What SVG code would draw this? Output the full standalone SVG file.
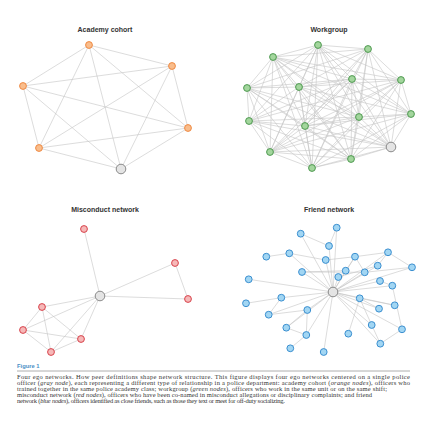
<svg xmlns="http://www.w3.org/2000/svg" width="427" height="421" viewBox="0 0 427 421">
<style>
.t{font-family:"Liberation Sans",Arial,sans-serif;font-weight:bold;font-size:7px;fill:#333;text-anchor:middle}
.e line{stroke:#c4c4c4;stroke-width:0.6}
.o{fill:#f9bd8c;stroke:#ef8a43;stroke-width:1}
.g{fill:#a3d69d;stroke:#4f9a51;stroke-width:1}
.r{fill:#f6b8b8;stroke:#d8434c;stroke-width:1}
.b{fill:#a2d6f3;stroke:#3b8fd0;stroke-width:1}
.ego{fill:#e4e4e4;stroke:#8a8a8a;stroke-width:1}
.cap{font-family:"Liberation Serif","Times New Roman",serif;font-size:6.5px;fill:#333}
</style>
<rect width="427" height="421" fill="#fff"/>
<text class="t" x="105" y="31.5">Academy cohort</text>
<text class="t" x="329" y="31.5">Workgroup</text>
<text class="t" x="105" y="211.5">Misconduct network</text>
<text class="t" x="329" y="211.5">Friend network</text>
<g id="connectors" class="e">
<line x1="89" y1="45" x2="172" y2="66"/><line x1="89" y1="45" x2="23" y2="86"/><line x1="89" y1="45" x2="188" y2="128"/><line x1="89" y1="45" x2="39" y2="148"/><line x1="89" y1="45" x2="121" y2="169"/>
<line x1="172" y1="66" x2="23" y2="86"/><line x1="172" y1="66" x2="188" y2="128"/><line x1="172" y1="66" x2="39" y2="148"/><line x1="172" y1="66" x2="121" y2="169"/>
<line x1="23" y1="86" x2="188" y2="128"/><line x1="23" y1="86" x2="39" y2="148"/><line x1="23" y1="86" x2="121" y2="169"/>
<line x1="188" y1="128" x2="39" y2="148"/><line x1="188" y1="128" x2="121" y2="169"/><line x1="39" y1="148" x2="121" y2="169"/>
<line x1="318" y1="45" x2="368" y2="49"/><line x1="318" y1="45" x2="273" y2="57"/><line x1="318" y1="45" x2="352" y2="79"/><line x1="318" y1="45" x2="401" y2="80"/><line x1="318" y1="45" x2="247" y2="88"/><line x1="318" y1="45" x2="299" y2="87"/><line x1="318" y1="45" x2="411" y2="114"/><line x1="318" y1="45" x2="359" y2="117"/><line x1="318" y1="45" x2="249" y2="121"/><line x1="318" y1="45" x2="305" y2="126"/><line x1="318" y1="45" x2="351" y2="159"/><line x1="318" y1="45" x2="312" y2="168"/><line x1="318" y1="45" x2="391" y2="147"/><line x1="318" y1="45" x2="270" y2="152"/>
<line x1="368" y1="49" x2="273" y2="57"/><line x1="368" y1="49" x2="352" y2="79"/><line x1="368" y1="49" x2="401" y2="80"/><line x1="368" y1="49" x2="247" y2="88"/><line x1="368" y1="49" x2="299" y2="87"/><line x1="368" y1="49" x2="411" y2="114"/><line x1="368" y1="49" x2="359" y2="117"/><line x1="368" y1="49" x2="305" y2="126"/><line x1="368" y1="49" x2="351" y2="159"/><line x1="368" y1="49" x2="391" y2="147"/><line x1="368" y1="49" x2="312" y2="168"/><line x1="368" y1="49" x2="270" y2="152"/>
<line x1="273" y1="57" x2="352" y2="79"/><line x1="273" y1="57" x2="247" y2="88"/><line x1="273" y1="57" x2="299" y2="87"/><line x1="273" y1="57" x2="411" y2="114"/><line x1="273" y1="57" x2="359" y2="117"/><line x1="273" y1="57" x2="249" y2="121"/><line x1="273" y1="57" x2="305" y2="126"/><line x1="273" y1="57" x2="270" y2="152"/><line x1="273" y1="57" x2="312" y2="168"/><line x1="273" y1="57" x2="391" y2="147"/><line x1="273" y1="57" x2="401" y2="80"/><line x1="273" y1="57" x2="351" y2="159"/>
<line x1="352" y1="79" x2="401" y2="80"/><line x1="352" y1="79" x2="247" y2="88"/><line x1="352" y1="79" x2="299" y2="87"/><line x1="352" y1="79" x2="411" y2="114"/><line x1="352" y1="79" x2="359" y2="117"/><line x1="352" y1="79" x2="305" y2="126"/><line x1="352" y1="79" x2="270" y2="152"/><line x1="352" y1="79" x2="351" y2="159"/><line x1="352" y1="79" x2="312" y2="168"/><line x1="352" y1="79" x2="391" y2="147"/><line x1="352" y1="79" x2="249" y2="121"/>
<line x1="401" y1="80" x2="299" y2="87"/><line x1="401" y1="80" x2="411" y2="114"/><line x1="401" y1="80" x2="359" y2="117"/><line x1="401" y1="80" x2="270" y2="152"/><line x1="401" y1="80" x2="351" y2="159"/><line x1="401" y1="80" x2="312" y2="168"/><line x1="401" y1="80" x2="391" y2="147"/><line x1="401" y1="80" x2="249" y2="121"/><line x1="401" y1="80" x2="305" y2="126"/>
<line x1="247" y1="88" x2="299" y2="87"/><line x1="247" y1="88" x2="249" y2="121"/><line x1="247" y1="88" x2="305" y2="126"/><line x1="247" y1="88" x2="270" y2="152"/><line x1="247" y1="88" x2="312" y2="168"/><line x1="247" y1="88" x2="391" y2="147"/><line x1="247" y1="88" x2="359" y2="117"/><line x1="247" y1="88" x2="351" y2="159"/>
<line x1="299" y1="87" x2="411" y2="114"/><line x1="299" y1="87" x2="359" y2="117"/><line x1="299" y1="87" x2="249" y2="121"/><line x1="299" y1="87" x2="305" y2="126"/><line x1="299" y1="87" x2="270" y2="152"/><line x1="299" y1="87" x2="351" y2="159"/><line x1="299" y1="87" x2="312" y2="168"/><line x1="299" y1="87" x2="391" y2="147"/>
<line x1="411" y1="114" x2="359" y2="117"/><line x1="411" y1="114" x2="305" y2="126"/><line x1="411" y1="114" x2="351" y2="159"/><line x1="411" y1="114" x2="312" y2="168"/><line x1="411" y1="114" x2="391" y2="147"/><line x1="411" y1="114" x2="270" y2="152"/>
<line x1="359" y1="117" x2="249" y2="121"/><line x1="359" y1="117" x2="305" y2="126"/><line x1="359" y1="117" x2="270" y2="152"/><line x1="359" y1="117" x2="351" y2="159"/><line x1="359" y1="117" x2="312" y2="168"/><line x1="359" y1="117" x2="391" y2="147"/>
<line x1="249" y1="121" x2="305" y2="126"/><line x1="249" y1="121" x2="270" y2="152"/><line x1="249" y1="121" x2="351" y2="159"/><line x1="249" y1="121" x2="312" y2="168"/><line x1="249" y1="121" x2="391" y2="147"/>
<line x1="305" y1="126" x2="270" y2="152"/><line x1="305" y1="126" x2="351" y2="159"/><line x1="305" y1="126" x2="312" y2="168"/><line x1="305" y1="126" x2="391" y2="147"/>
<line x1="270" y1="152" x2="351" y2="159"/><line x1="270" y1="152" x2="312" y2="168"/><line x1="270" y1="152" x2="391" y2="147"/>
<line x1="351" y1="159" x2="312" y2="168"/><line x1="351" y1="159" x2="391" y2="147"/><line x1="312" y1="168" x2="391" y2="147"/>
<line x1="84" y1="229" x2="100" y2="296"/><line x1="175" y1="263" x2="100" y2="296"/><line x1="175" y1="263" x2="188" y2="299"/><line x1="100" y1="296" x2="188" y2="299"/>
<line x1="100" y1="296" x2="42" y2="307"/><line x1="100" y1="296" x2="23" y2="330"/><line x1="100" y1="296" x2="81" y2="339"/><line x1="100" y1="296" x2="51" y2="352"/>
<line x1="42" y1="307" x2="23" y2="330"/><line x1="42" y1="307" x2="81" y2="339"/><line x1="42" y1="307" x2="51" y2="352"/><line x1="23" y1="330" x2="81" y2="339"/><line x1="23" y1="330" x2="51" y2="352"/><line x1="51" y1="352" x2="81" y2="339"/>
<line x1="333" y1="292" x2="336.7" y2="227.7"/><line x1="333" y1="292" x2="300.7" y2="233.7"/><line x1="333" y1="292" x2="329" y2="246"/><line x1="333" y1="292" x2="289.3" y2="253.3"/><line x1="333" y1="292" x2="325.7" y2="260"/><line x1="333" y1="292" x2="355" y2="256.7"/><line x1="333" y1="292" x2="388" y2="252.3"/><line x1="333" y1="292" x2="412" y2="267.3"/><line x1="333" y1="292" x2="377.7" y2="265.7"/><line x1="333" y1="292" x2="345.7" y2="270.7"/><line x1="333" y1="292" x2="364.7" y2="272.3"/><line x1="333" y1="292" x2="302" y2="272"/><line x1="333" y1="292" x2="338.3" y2="277"/><line x1="333" y1="292" x2="248.7" y2="279.3"/><line x1="333" y1="292" x2="380" y2="281"/><line x1="333" y1="292" x2="392.3" y2="285.7"/><line x1="333" y1="292" x2="281.3" y2="297.7"/><line x1="333" y1="292" x2="359.7" y2="298.3"/><line x1="333" y1="292" x2="394.7" y2="305.3"/><line x1="333" y1="292" x2="307.3" y2="310"/><line x1="333" y1="292" x2="379" y2="308.7"/><line x1="333" y1="292" x2="268.7" y2="314.7"/><line x1="333" y1="292" x2="286.3" y2="327.7"/><line x1="333" y1="292" x2="371.7" y2="325"/><line x1="333" y1="292" x2="402" y2="329.3"/><line x1="333" y1="292" x2="306.3" y2="335"/><line x1="333" y1="292" x2="380.3" y2="343.7"/><line x1="333" y1="292" x2="323.7" y2="352"/>
<line x1="336.7" y1="227.7" x2="329" y2="246"/><line x1="300.7" y1="233.7" x2="329" y2="246"/><line x1="266.3" y1="256.7" x2="289.3" y2="253.3"/><line x1="289.3" y1="253.3" x2="325.7" y2="260"/><line x1="302" y1="272" x2="345.7" y2="270.7"/><line x1="302" y1="272" x2="364.7" y2="272.3"/><line x1="355" y1="256.7" x2="388" y2="252.3"/><line x1="388" y1="252.3" x2="412" y2="267.3"/><line x1="388" y1="252.3" x2="377.7" y2="265.7"/><line x1="355" y1="256.7" x2="345.7" y2="270.7"/><line x1="355" y1="256.7" x2="364.7" y2="272.3"/><line x1="345.7" y1="270.7" x2="338.3" y2="277"/><line x1="377.7" y1="265.7" x2="338.3" y2="277"/><line x1="364.7" y1="272.3" x2="412" y2="267.3"/><line x1="325.7" y1="260" x2="355" y2="256.7"/><line x1="380" y1="281" x2="392.3" y2="285.7"/>
<line x1="246" y1="303.3" x2="281.3" y2="297.7"/><line x1="281.3" y1="297.7" x2="268.7" y2="314.7"/><line x1="268.7" y1="314.7" x2="307.3" y2="310"/><line x1="307.3" y1="310" x2="306.3" y2="335"/><line x1="286.3" y1="327.7" x2="307.3" y2="310"/><line x1="286.3" y1="327.7" x2="306.3" y2="335"/><line x1="306.3" y1="335" x2="290.3" y2="348.3"/>
<line x1="359.7" y1="298.3" x2="379" y2="308.7"/><line x1="359.7" y1="298.3" x2="394.7" y2="305.3"/><line x1="359.7" y1="298.3" x2="348.3" y2="333.7"/><line x1="359.7" y1="298.3" x2="371.7" y2="325"/><line x1="380.3" y1="343.7" x2="402" y2="329.3"/><line x1="402" y1="329.3" x2="392.3" y2="285.7"/><line x1="371.7" y1="325" x2="380.3" y2="343.7"/>
</g>
<g id="academy-nodes">
<circle class="o" cx="89" cy="45" r="3.4"/><circle class="o" cx="172" cy="66" r="3.4"/><circle class="o" cx="23" cy="86" r="3.4"/><circle class="o" cx="188" cy="128" r="3.4"/><circle class="o" cx="39" cy="148" r="3.4"/>
<circle id="a-ego" class="ego" cx="121" cy="169" r="4.8"/>
</g>
<g id="workgroup-nodes">
<circle class="g" cx="318" cy="45" r="3.4"/><circle class="g" cx="368" cy="49" r="3.4"/><circle class="g" cx="273" cy="57" r="3.4"/><circle class="g" cx="352" cy="79" r="3.4"/><circle class="g" cx="401" cy="80" r="3.4"/><circle class="g" cx="247" cy="88" r="3.4"/><circle class="g" cx="299" cy="87" r="3.4"/><circle class="g" cx="411" cy="114" r="3.4"/><circle class="g" cx="359" cy="117" r="3.4"/><circle class="g" cx="249" cy="121" r="3.4"/><circle class="g" cx="305" cy="126" r="3.4"/><circle class="g" cx="270" cy="152" r="3.4"/><circle class="g" cx="351" cy="159" r="3.4"/><circle class="g" cx="312" cy="168" r="3.4"/>
<circle id="w-ego" class="ego" cx="391" cy="147" r="4.8"/>
</g>
<g id="misconduct-nodes">
<circle class="r" cx="84" cy="229" r="3.4"/><circle class="r" cx="175" cy="263" r="3.4"/><circle class="r" cx="188" cy="299" r="3.4"/><circle class="r" cx="42" cy="307" r="3.4"/><circle class="r" cx="23" cy="330" r="3.4"/><circle class="r" cx="81" cy="339" r="3.4"/><circle class="r" cx="51" cy="352" r="3.4"/>
<circle id="m-ego" class="ego" cx="100" cy="296" r="4.8"/>
</g>
<g id="friend-nodes">
<circle class="b" cx="336.7" cy="227.7" r="3.4"/><circle class="b" cx="300.7" cy="233.7" r="3.4"/><circle class="b" cx="329" cy="246" r="3.4"/><circle class="b" cx="266.3" cy="256.7" r="3.4"/><circle class="b" cx="289.3" cy="253.3" r="3.4"/><circle class="b" cx="325.7" cy="260" r="3.4"/><circle class="b" cx="355" cy="256.7" r="3.4"/><circle class="b" cx="388" cy="252.3" r="3.4"/><circle class="b" cx="412" cy="267.3" r="3.4"/><circle class="b" cx="377.7" cy="265.7" r="3.4"/><circle class="b" cx="345.7" cy="270.7" r="3.4"/><circle class="b" cx="364.7" cy="272.3" r="3.4"/><circle class="b" cx="302" cy="272" r="3.4"/><circle class="b" cx="338.3" cy="277" r="3.4"/><circle class="b" cx="248.7" cy="279.3" r="3.4"/><circle class="b" cx="380" cy="281" r="3.4"/><circle class="b" cx="392.3" cy="285.7" r="3.4"/><circle class="b" cx="281.3" cy="297.7" r="3.4"/><circle class="b" cx="246" cy="303.3" r="3.4"/><circle class="b" cx="359.7" cy="298.3" r="3.4"/><circle class="b" cx="394.7" cy="305.3" r="3.4"/><circle class="b" cx="307.3" cy="310" r="3.4"/><circle class="b" cx="379" cy="308.7" r="3.4"/><circle class="b" cx="268.7" cy="314.7" r="3.4"/><circle class="b" cx="286.3" cy="327.7" r="3.4"/><circle class="b" cx="371.7" cy="325" r="3.4"/><circle class="b" cx="402" cy="329.3" r="3.4"/><circle class="b" cx="306.3" cy="335" r="3.4"/><circle class="b" cx="348.3" cy="333.7" r="3.4"/><circle class="b" cx="380.3" cy="343.7" r="3.4"/><circle class="b" cx="290.3" cy="348.3" r="3.4"/><circle class="b" cx="323.7" cy="352" r="3.4"/>
<circle id="f-ego" class="ego" cx="333" cy="292" r="4.8"/>
</g>
<g id="caption">
<text x="17" y="368" font-family="Liberation Sans,Arial,sans-serif" font-weight="bold" font-size="5.8" fill="#4a8fc6">Figure 1</text>
<line x1="17" y1="371" x2="410" y2="371" stroke="#9a9a9a" stroke-width="0.8"/>
<text class="cap" x="17" y="378.5" textLength="393" lengthAdjust="spacing">Four ego networks. How peer definitions shape network structure. This figure displays four ego networks centered on a single police</text>
<text class="cap" x="17" y="384.5" textLength="393" lengthAdjust="spacing">officer (<tspan font-style="italic">gray node</tspan>), each representing a different type of relationship in a police department: academy cohort (<tspan font-style="italic">orange nodes</tspan>), officers who</text>
<text class="cap" x="17" y="390.5" textLength="370" lengthAdjust="spacing">trained together in the same police academy class; workgroup (<tspan font-style="italic">green nodes</tspan>), officers who work in the same unit or on the same shift;</text>
<text class="cap" x="17" y="396.5" textLength="355" lengthAdjust="spacing">misconduct network (<tspan font-style="italic">red nodes</tspan>), officers who have been co-named in misconduct allegations or disciplinary complaints; and friend</text>
<text class="cap" x="17" y="402.5" textLength="268" lengthAdjust="spacing">network (<tspan font-style="italic">blue nodes</tspan>), officers identified as close friends, such as those they text or meet for off-duty socializing.</text>
</g>
</svg>
